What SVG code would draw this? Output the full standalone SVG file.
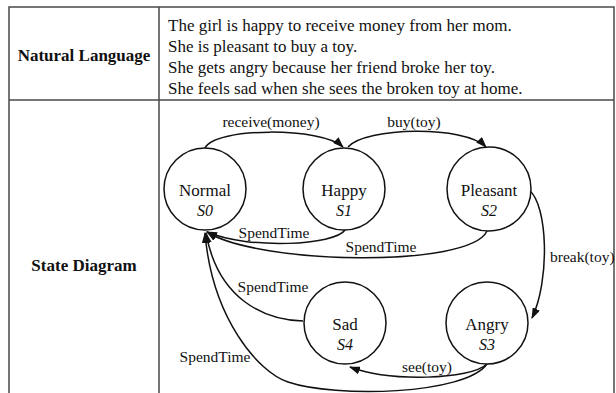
<svg xmlns="http://www.w3.org/2000/svg" width="616" height="393" viewBox="0 0 616 393">
  <style>
    .grid { stroke: #4a4a4a; stroke-width: 1.5; fill: none; }
    .head { font-family: "Liberation Serif", "Times New Roman", serif; font-size: 17px; font-weight: bold; fill: #111; text-anchor: middle; }
    .body { font-family: "Liberation Serif", "Times New Roman", serif; font-size: 17px; fill: #111; }
    .state { fill: #fff; stroke: #111; stroke-width: 1.5; }
    .name { font-family: "Liberation Serif", "Times New Roman", serif; font-size: 17px; fill: #111; text-anchor: middle; }
    .sid { font-family: "Liberation Serif", "Times New Roman", serif; font-size: 16px; font-style: italic; fill: #111; text-anchor: middle; }
    .edge { fill: none; stroke: #111; stroke-width: 1.5; marker-end: url(#arrow); }
    .lbl { font-family: "Liberation Serif", "Times New Roman", serif; font-size: 15.5px; fill: #111; }
  </style>
  <defs>
    <marker id="arrow" markerUnits="userSpaceOnUse" markerWidth="11" markerHeight="8" refX="10" refY="4" orient="auto">
      <path d="M0,0 L11,4 L0,8 z" fill="#111"/>
    </marker>
  </defs>
  <rect width="616" height="393" fill="#fff"/>

  <!-- table frame (open at the bottom) -->
  <g id="table">
    <path class="grid" d="M9 393 V7 H614 V393 M159 7 V393 M9 100 H614"/>
    <text class="head" x="84" y="61">Natural Language</text>
    <text class="head" x="84" y="271">State Diagram</text>
    <text class="body" x="168" y="31">The girl is happy to receive money from her mom.</text>
    <text class="body" x="168" y="52">She is pleasant to buy a toy.</text>
    <text class="body" x="168" y="73">She gets angry because her friend broke her toy.</text>
    <text class="body" x="168" y="94">She feels sad when she sees the broken toy at home.</text>
  </g>

  <!-- transitions -->
  <g id="connectors">
    <path class="edge" d="M205 148 C215 127, 322 127, 343 147"/>
    <path class="edge" d="M348 147 C365 127, 465 125, 486 147"/>
    <path class="edge" d="M529 190 C548 205, 550 280, 532 318"/>
    <path class="edge" d="M487 364 C470 380, 390 382, 350 367"/>
    <path class="edge" d="M345 230 C335 245, 250 250, 207 232"/>
    <path class="edge" d="M487 231 C470 268, 260 265, 207 232"/>
    <path class="edge" d="M303 321 C265 320, 218 300, 206 233"/>
    <path class="edge" d="M487 364 C465 395, 335 398, 288 382 C258 372, 212 318, 205 233"/>
    <text class="lbl" x="271" y="127" text-anchor="middle">receive(money)</text>
    <text class="lbl" x="414" y="127" text-anchor="middle">buy(toy)</text>
    <text class="lbl" x="550" y="262">break(toy)</text>
    <text class="lbl" x="427" y="372" text-anchor="middle">see(toy)</text>
    <text class="lbl" x="274" y="238" text-anchor="middle">SpendTime</text>
    <text class="lbl" x="381" y="252" text-anchor="middle">SpendTime</text>
    <text class="lbl" x="273" y="292" text-anchor="middle">SpendTime</text>
    <text class="lbl" x="215" y="362" text-anchor="middle">SpendTime</text>
  </g>

  <g id="s0">
    <circle class="state" cx="205" cy="189" r="41"/>
    <text class="name" x="205" y="196">Normal</text>
    <text class="sid" x="205" y="216">S0</text>
  </g>
  <g id="s1">
    <circle class="state" cx="344" cy="189" r="41"/>
    <text class="name" x="344" y="196">Happy</text>
    <text class="sid" x="344" y="216">S1</text>
  </g>
  <g id="s2">
    <circle class="state" cx="489" cy="189" r="42"/>
    <text class="name" x="489" y="196">Pleasant</text>
    <text class="sid" x="489" y="216">S2</text>
  </g>
  <g id="s3">
    <circle class="state" cx="487" cy="323" r="41"/>
    <text class="name" x="487" y="330">Angry</text>
    <text class="sid" x="487" y="350">S3</text>
  </g>
  <g id="s4">
    <circle class="state" cx="345" cy="323" r="41"/>
    <text class="name" x="345" y="330">Sad</text>
    <text class="sid" x="345" y="350">S4</text>
  </g>
</svg>
